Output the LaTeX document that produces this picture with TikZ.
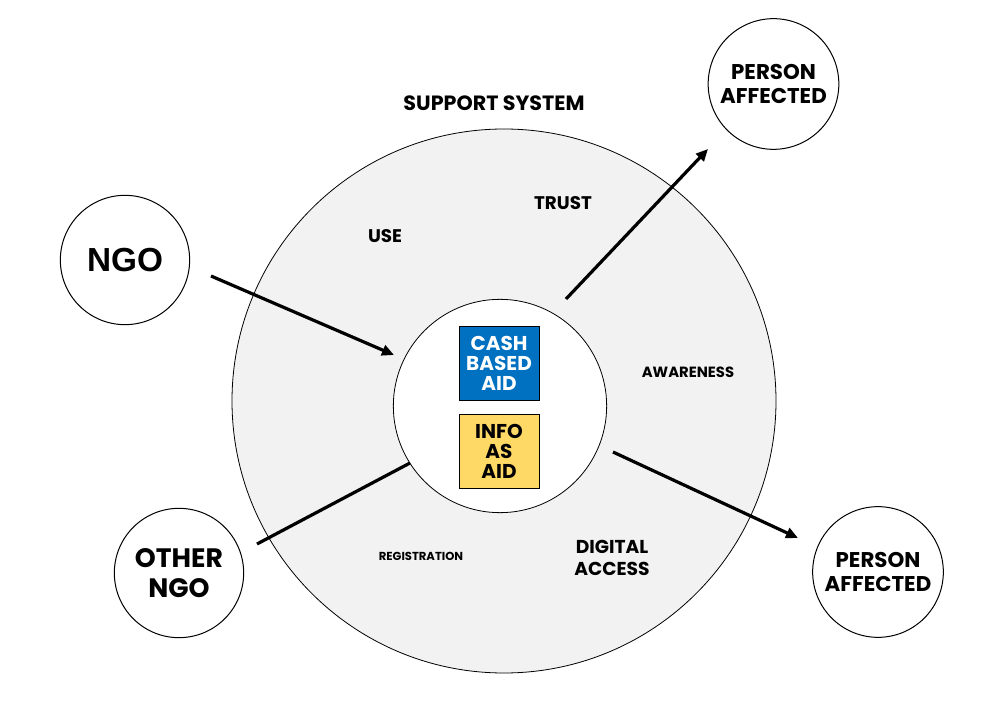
\documentclass[tikz,border=0pt]{standalone}
\usepackage{fontspec}
\setmainfont{Poppins}[UprightFont=* SemiBold,BoldFont=* Bold]
\newfontfamily\arialfont{Liberation Sans}
\usetikzlibrary{arrows.meta}
\definecolor{cashblue}{HTML}{0070C0}
\definecolor{infoyellow}{HTML}{FFD966}
\definecolor{sysgray}{HTML}{F2F2F2}
\begin{document}
\begin{tikzpicture}[x=0.75pt,y=-0.75pt,
  circ/.style={circle,draw=black,line width=0.75pt,fill=white,inner sep=0pt,align=center,font=\bfseries},
  lbl/.style={font=\bfseries,align=center,inner sep=0pt},
  conn/.style={line width=2.4pt},
  arr/.style={line width=2.4pt,-{Triangle[length=9pt,width=8pt]}},
  box/.style={draw=black,line width=0.75pt,minimum width=60pt,minimum height=55pt,inner sep=0pt,align=center,font=\bfseries\fontsize{15}{15}\selectfont}]
\useasboundingbox (0,0) rectangle (1008,720);
\node[circle,draw=black,line width=0.6pt,fill=sysgray,minimum size=408pt,inner sep=0pt] (sys) at (504,401) {};
\node[circle,draw=black,line width=0.6pt,fill=white,minimum size=160pt,inner sep=0pt] (core) at (500,406) {};
\node[box,fill=cashblue,text=white] (cash) at (499,363.5) {CASH\\BASED\\AID};
\node[box,fill=infoyellow,text=black] (info) at (499,451.5) {INFO\\AS\\AID};
\node[circ,minimum size=97pt] (ngo) at (125,260) {\arialfont\bfseries\fontsize{25}{27}\selectfont NGO};
\node[circ,minimum size=97pt,font=\bfseries\fontsize{20}{23}\selectfont] (other) at (179,573) {OTHER\\NGO};
\node[circ,minimum size=98pt,font=\bfseries\fontsize{16}{18.5}\selectfont] (pa1) at (773.5,84) {PERSON\\AFFECTED};
\node[circ,minimum size=98pt,font=\bfseries\fontsize{16}{18.5}\selectfont] (pa2) at (878,572) {PERSON\\AFFECTED};
\node[lbl,font=\bfseries\fontsize{15.5}{17}\selectfont] (ss) at (494,103) {SUPPORT SYSTEM};
\node[lbl,font=\bfseries\fontsize{13.7}{15}\selectfont] (trust) at (563,203) {TRUST};
\node[lbl,font=\bfseries\fontsize{13.7}{15}\selectfont] (use) at (385,236) {USE};
\node[lbl,font=\bfseries\fontsize{11.1}{12}\selectfont] (aw) at (688,372) {AWARENESS};
\node[lbl,font=\bfseries\fontsize{8.7}{10}\selectfont] (reg) at (421,556) {REGISTRATION};
\node[lbl,font=\bfseries\fontsize{14}{16.5}\selectfont] (dig) at (612,558) {DIGITAL\\ACCESS};
\coordinate (a1s) at (211,276); \coordinate (a1e) at (394,355);
\coordinate (a2s) at (257,544); \coordinate (a2e) at (410,463);
\coordinate (a3s) at (566,299); \coordinate (a3e) at (708,149);
\coordinate (a4s) at (613,452); \coordinate (a4e) at (798,538);
\draw[arr] (a1s) -- (a1e);
\draw[conn] (a2s) -- (a2e);
\draw[arr] (a3s) -- (a3e);
\draw[arr] (a4s) -- (a4e);
\end{tikzpicture}
\end{document}
